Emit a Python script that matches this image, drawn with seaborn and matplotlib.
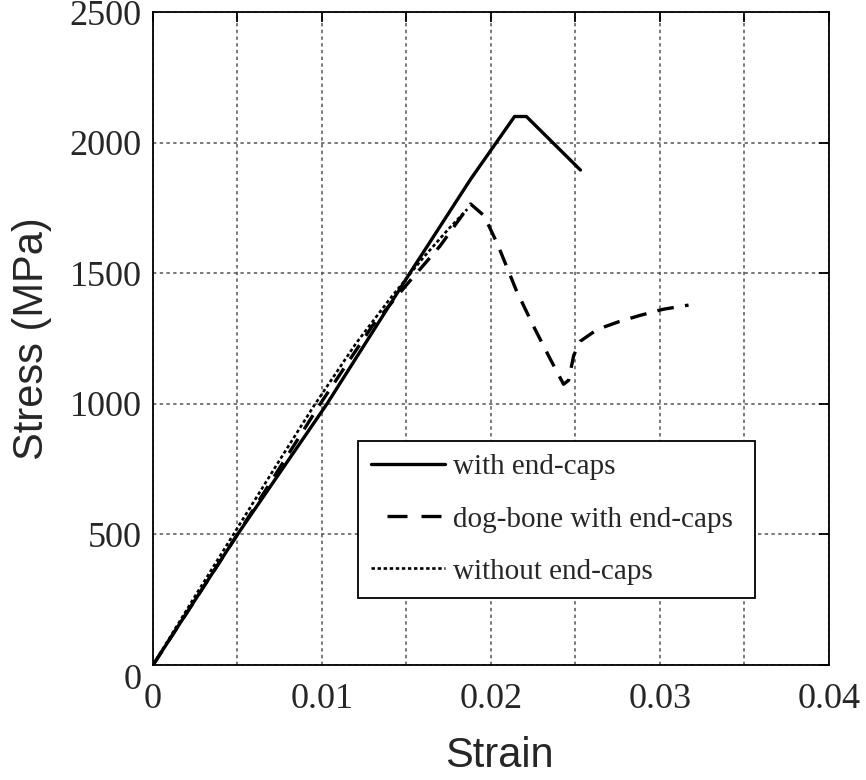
import matplotlib
matplotlib.use("Agg")
import matplotlib.pyplot as plt
from matplotlib.ticker import MultipleLocator, FuncFormatter
import seaborn as sns
import pandas as pd

# Stress-strain curves (strain in mm/mm, stress in MPa)
with_caps_strain = [0.0, 0.005, 0.0103, 0.0152, 0.0188, 0.0214, 0.0221, 0.0253]
with_caps_stress = [0, 500, 1000, 1500, 1860, 2100, 2100, 1895]

dogbone_strain = [0.0, 0.005, 0.0099, 0.013, 0.015, 0.017, 0.018, 0.0188,
                  0.0196, 0.0204, 0.0215, 0.0225, 0.0235, 0.0243, 0.0246,
                  0.0249, 0.0253, 0.0263, 0.0276, 0.0288, 0.0302, 0.0317]
dogbone_stress = [0, 500, 1000, 1300, 1455, 1605, 1695, 1765,
                  1720, 1610, 1435, 1300, 1173, 1075, 1090,
                  1185, 1240, 1285, 1315, 1338, 1362, 1378]

no_caps_strain = [0.0, 0.0025, 0.005, 0.0075, 0.0095, 0.012, 0.014, 0.016, 0.0175, 0.0186]
no_caps_stress = [0, 265, 525, 785, 990, 1230, 1400, 1560, 1670, 1745]

series_labels = ["with end-caps", "dog-bone with end-caps", "without end-caps"]

sns.set_style("white")
serif = ["Liberation Serif", "DejaVu Serif"]
sans = ["Liberation Sans", "DejaVu Sans"]

fig = plt.figure(figsize=(8.66, 7.80), dpi=100)
ax = fig.add_axes([0.1767, 0.1474, 0.957 - 0.1767, 0.9846 - 0.1474])

frames = [
    pd.DataFrame({"Strain": with_caps_strain, "Stress": with_caps_stress}),
    pd.DataFrame({"Strain": dogbone_strain, "Stress": dogbone_stress}),
    pd.DataFrame({"Strain": no_caps_strain, "Stress": no_caps_stress}),
]
styles = [
    dict(linewidth=2.4, dashes=None),
    dict(linewidth=2.4, dashes=(5.0, 3.4)),
    dict(linewidth=1.9, dashes=(1.3, 1.0)),
]

for df, lab, st in zip(frames, series_labels, styles):
    sns.lineplot(data=df, x="Strain", y="Stress", ax=ax, color="black",
                 linewidth=st["linewidth"], label=lab, sort=False,
                 estimator=None)
    line = ax.lines[-1]
    if st["dashes"] is not None:
        line.set_dashes(st["dashes"])
    line.set_solid_joinstyle("round")
    line.set_dash_capstyle("butt")

ax.set_xlim(0, 0.04)
ax.set_ylim(0, 2500)

ax.xaxis.set_major_locator(MultipleLocator(0.01))
ax.xaxis.set_minor_locator(MultipleLocator(0.005))
ax.yaxis.set_major_locator(MultipleLocator(500))
ax.xaxis.set_major_formatter(FuncFormatter(lambda v, p: "0" if abs(v) < 1e-12 else f"{v:.2f}"))
# the y "0" is written separately, just under the corner
ax.yaxis.set_major_formatter(FuncFormatter(lambda v, p: "" if abs(v) < 1e-9 else f"{int(round(v))}"))

ax.grid(True, which="both", axis="x", color="#555555", linestyle=(0, (2.2, 2.2)), linewidth=1.1)
ax.grid(True, which="major", axis="y", color="#555555", linestyle=(0, (2.2, 2.2)), linewidth=1.1)
ax.set_axisbelow(True)

ax.tick_params(axis="both", which="both", direction="in", top=True, right=True,
               length=7, width=1.3, color="black")
ax.tick_params(axis="x", which="major", labelsize=26, pad=13)
ax.tick_params(axis="y", which="major", labelsize=26, pad=8)
for lbl in ax.get_xticklabels() + ax.get_yticklabels():
    lbl.set_fontfamily(serif)

ax.annotate("0", xy=(0, 0), xycoords="data", xytext=(-8, 1), textcoords="offset points",
            ha="right", va="top", fontsize=26, family=serif)

for s in ax.spines.values():
    s.set_color("black")
    s.set_linewidth(1.3)

ax.set_xlabel("Strain", fontsize=30, family=sans, labelpad=4)
ax.xaxis.set_label_coords(0.513, -0.108)
ax.set_ylabel("Stress (MPa)", fontsize=30, family=sans)
ax.yaxis.set_label_coords(-0.150, 0.5)

leg = ax.legend(loc="lower left", bbox_to_anchor=(0.303, 0.103, 0.588, 0.243),
                mode="expand", borderaxespad=0, frameon=True, fancybox=False,
                edgecolor="black", framealpha=1, handlelength=2.53,
                handletextpad=0.28, labelspacing=0.88, borderpad=0.45,
                prop={"family": serif, "size": 21})
leg.get_frame().set_linewidth(1.3)
# legend sample for the dog-bone curve: a gap, then two dashes
leg.get_lines()[1].set_linestyle((31.4, (6.0, 4.2, 6.0, 20.0)))

fig.savefig("out.png", dpi=100)
